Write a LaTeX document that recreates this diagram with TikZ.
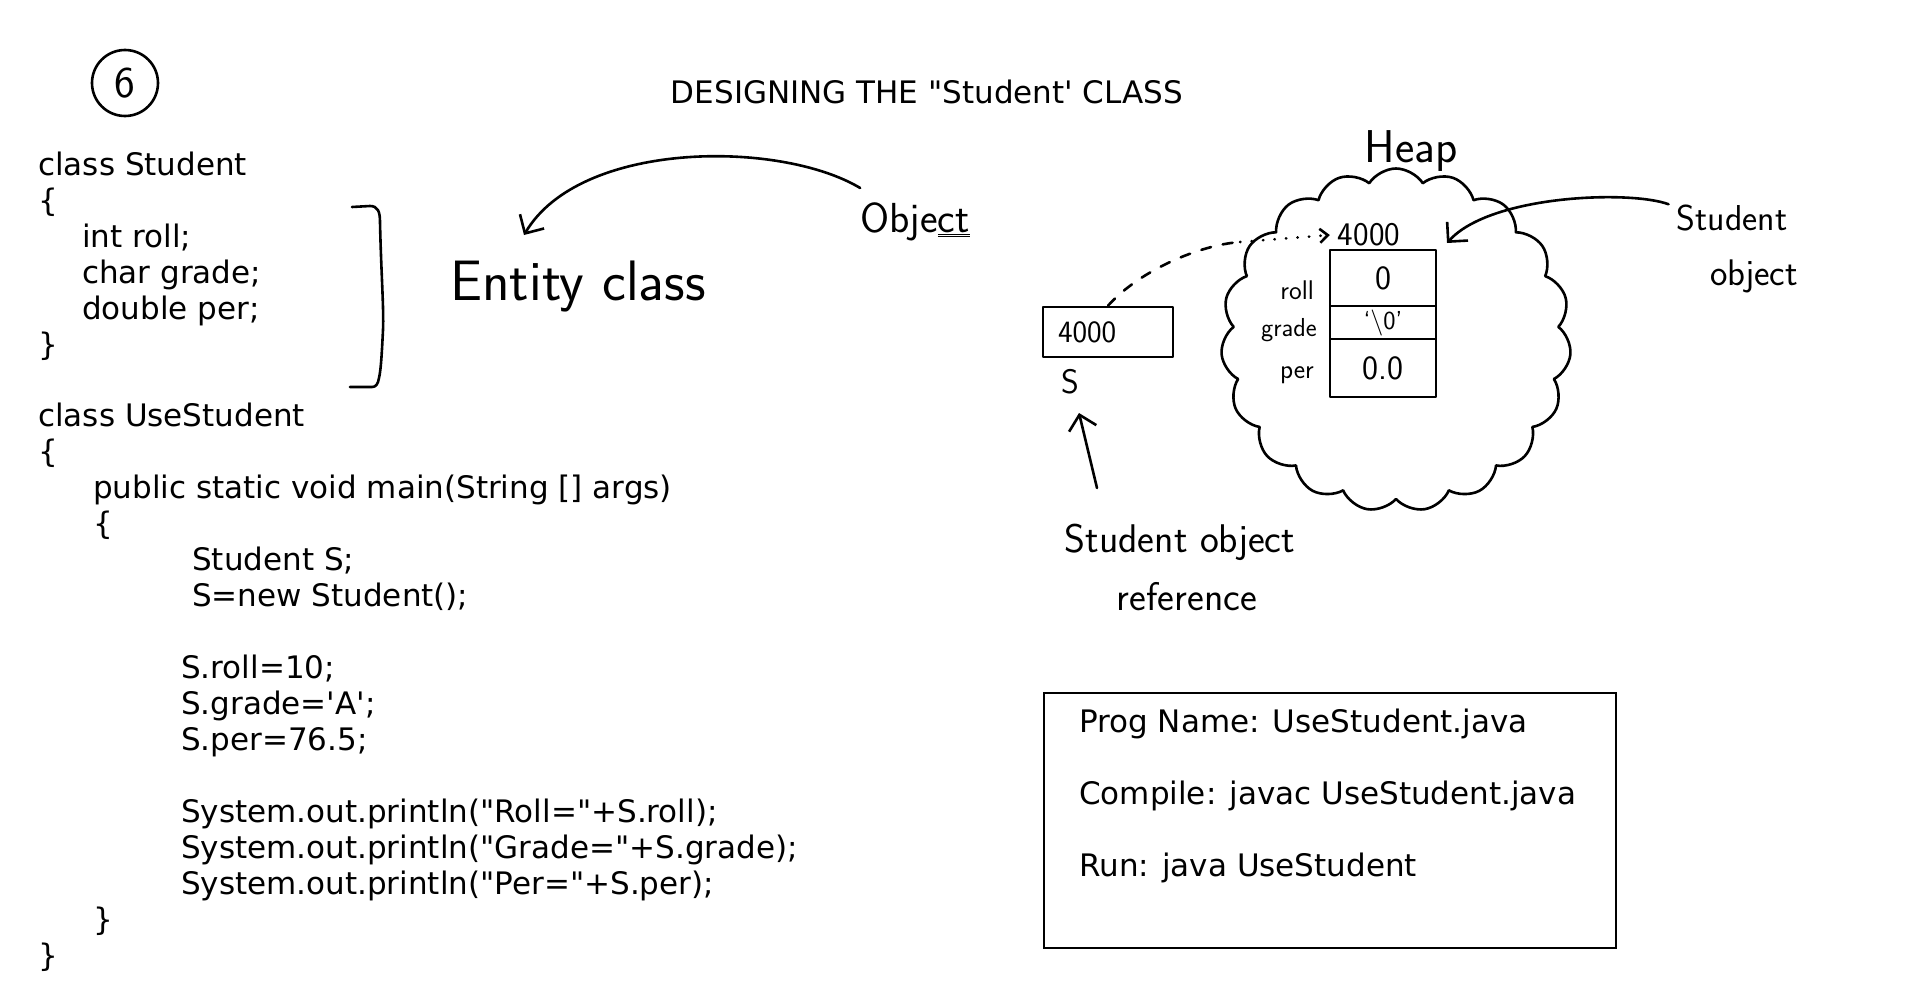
\documentclass[tikz,border=0pt]{standalone}
\usepackage{fontspec}
\newfontfamily\codefont{DejaVu Sans}
\usetikzlibrary{arrows.meta,positioning,shapes.symbols}

\tikzset{
  code/.style={font=\codefont\fontsize{31}{36}\selectfont, align=left, inner sep=0pt},
  hand/.style={font=\sffamily\fontsize{#1}{#1}\selectfont, inner sep=0pt},
  hand/.default=34,
  pen/.style={line width=2.6pt, line cap=round, line join=round},
  barb/.style={-{Straight Barb[length=14pt,width=28pt]}},
  cell/.style={draw, pen, minimum width=106pt, outer sep=0pt},
}

\begin{document}
\begin{tikzpicture}[x=1pt, y=-1pt]
    \useasboundingbox (0,0) rectangle (1920,1001);
    % Title and page number
    \node[code, font=\codefont\fontsize{31}{36}\selectfont, anchor=base] (title) at (927,103) {DESIGNING THE "Student' CLASS};
    \node[hand=44, draw, circle, pen, minimum size=66pt] (num) at (125,83) {6};
    % Entity class listing
    \node[code, anchor=north west] (stud) at (38,152) {class Student\\
      \{\\
      \hspace*{44pt}int roll;\\
      \hspace*{44pt}char grade;\\
      \hspace*{44pt}double per;\\
      \}};
    \draw[pen] (352,207) -- (370,206) .. controls (378,206) and (380,212) .. (380,222)
      .. controls (381,270) and (384,310) .. (383,330)
      .. controls (382,350) and (381,370) .. (379,378)
      .. controls (378,384) and (376,387) .. (372,387) -- (350,387);
    % Main class listing
    \node[code, anchor=north west] (use) at (38,403) {class UseStudent\\
      \{\\
      \hspace*{55pt}public static void main(String [] args)\\
      \hspace*{55pt}\{\\
      \hspace*{154pt}Student S;\\
      \hspace*{154pt}S=new Student();\\[36pt]
      \hspace*{143pt}S.roll=10;\\
      \hspace*{143pt}S.grade='A';\\
      \hspace*{143pt}S.per=76.5;\\[36pt]
      \hspace*{143pt}System.out.println("Roll="+S.roll);\\
      \hspace*{143pt}System.out.println("Grade="+S.grade);\\
      \hspace*{143pt}System.out.println("Per="+S.per);\\
      \hspace*{55pt}\}\\
      \}};
    % Entity class note
    \node[hand=57, anchor=base] (entity) at (578,300) {Entity class};
    \node[hand=42, anchor=base] (objlbl) at (915,232) {Obje\underline{\underline{ct}}};
    \coordinate (enttip) at (524,235);
    \draw[pen, barb] ([yshift=14pt]objlbl.north west) .. controls (780,140) and (580,140) .. (enttip);
    % Heap
    \node[cloud, draw, pen, cloud puffs=19, cloud puff arc=115, cloud ignores aspect,
      minimum width=350pt, minimum height=343pt] (heap) at (1396,340) {};
    \node[hand=46, anchor=base] (heaplbl) at (1411,162) {Heap};
    \node[hand=33] (addr) at (1369,235) {4000};
    \node[cell, hand=34, minimum height=56pt] (rollv) at (1383,278) {0};
    \node[cell, hand=26, minimum height=33pt, below=0pt of rollv] (gradev) {`\textbackslash 0'};
    \node[cell, hand=34, minimum height=58pt, below=0pt of gradev] (perv) {0.0};
    \node[hand=27, anchor=east] (rolll) at (1314,290) {roll};
    \node[hand=26, anchor=east] (gradel) at (1317,330) {grade};
    \node[hand=27, anchor=east] (perl) at (1314,375) {per};
    % Reference S
    \node[hand=31, draw, pen, align=left, text width=100pt, inner xsep=15pt,
      minimum height=50pt] (sbox) at (1108,332) {4000};
    \node[hand=34] (svar) at (1070,382) {S};
    \coordinate (bend) at (1240,242);
    \draw[pen, dash pattern=on 10pt off 12pt] (sbox.north) .. controls (1140,270) and (1200,245) .. (bend);
    \draw[pen, dash pattern=on 0.5pt off 11pt, -{Straight Barb[length=8pt,width=14pt]}] (bend) -- ([xshift=-8pt]addr.west);
    \node[hand=40, anchor=base] (refl1) at (1180,552) {Student object};
    \node[hand=40, anchor=base] (refl2) at (1187,610) {reference};
    \coordinate (reftail) at (1097,488);
    \coordinate (stip) at (1079,413);
    \draw[pen, barb] (reftail) -- (stip);
    % Student object note
    \node[hand=36, anchor=base] (rlbl1) at (1732,230) {Student};
    \node[hand=37, anchor=base] (rlbl2) at (1754,285) {object};
    \coordinate (tipr) at (1447,243);
    \draw[pen, barb] ([xshift=-8pt]rlbl1.north west) .. controls (1630,190) and (1490,195) .. (tipr);
    % Program info
    \node[draw, line width=2.4pt, minimum width=572pt, minimum height=255pt] (info) at (1330,820.5) {};
    \node[code, anchor=north west] (infotxt) at (1079,709) {Prog Name: UseStudent.java\\[36pt]
      Compile: javac UseStudent.java\\[36pt]
      Run: java UseStudent};
\end{tikzpicture}
\end{document}
